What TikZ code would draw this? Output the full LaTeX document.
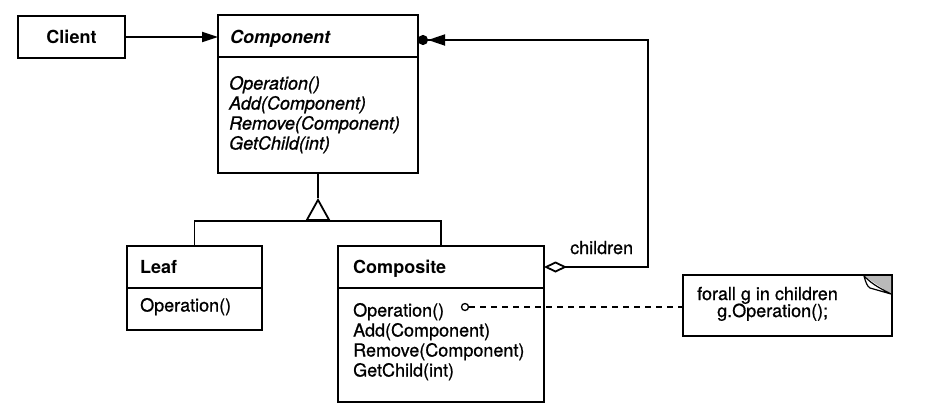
\documentclass[tikz,border=0pt]{standalone}
\usepackage{fontspec}
\setmainfont{TeX Gyre Heros}
\newfontfamily\opfont{TeX Gyre Heros}[FakeBold=0.7]
\newfontfamily\opitfont{TeX Gyre Heros Italic}[FakeBold=0.9]
\usetikzlibrary{arrows.meta}
\begin{document}
\begin{tikzpicture}[x=1pt,y=-1pt]
\tikzset{
  cls/.style={draw, line width=1.8pt, inner sep=0pt, outer sep=0pt},
  lbl/.style={anchor=base west, inner sep=0pt, font=\fontsize{18}{20}\selectfont\opfont},
  ttl/.style={anchor=base west, inner sep=0pt, font=\fontsize{18}{20}\selectfont\bfseries},
  absttl/.style={anchor=base west, inner sep=0pt, font=\fontsize{18}{20}\selectfont\bfseries\itshape},
  absop/.style={anchor=base west, inner sep=0pt, font=\fontsize{18}{20}\selectfont\opitfont},
  link/.style={line width=1.8pt},
}
\fill[white] (0,0) rectangle (946,418);
\useasboundingbox (0,0) rectangle (946,418);

% Client
\node[cls, minimum width=107pt, minimum height=42pt] (client) at (71.5,37) {};
\node[ttl, anchor=base] (clientT) at (71.5,43.5) {Client};

% Component
\node[cls, minimum width=200pt, minimum height=42pt] (compH) at (318,36) {};
\node[cls, minimum width=200pt, minimum height=116pt] (compB) at (318,115) {};
\node[absttl] (compT) at (230,43) {Component};
\node[absop] (compO1) at (229,89.5) {Operation()};
\node[absop] (compO2) at (229,109.5) {Add(Component)};
\node[absop] (compO3) at (229,129.5) {Remove(Component)};
\node[absop] (compO4) at (229,149.5) {GetChild(int)};

% Leaf
\node[cls, minimum width=135pt, minimum height=42pt] (leafH) at (194.5,267) {};
\node[cls, minimum width=135pt, minimum height=42pt] (leafB) at (194.5,309) {};
\node[ttl] (leafT) at (140,273.5) {Leaf};
\node[lbl] (leafO1) at (140,311.5) {Operation()};

% Composite
\node[cls, minimum width=206pt, minimum height=42pt] (compoH) at (441,267) {};
\node[cls, minimum width=206pt, minimum height=114pt] (compoB) at (441,345) {};
\node[ttl] (compoT) at (353,273.5) {Composite};
\node[lbl] (compoO1) at (353,316.5) {Operation()};
\node[lbl] (compoO2) at (353,336.5) {Add(Component)};
\node[lbl] (compoO3) at (353,356.5) {Remove(Component)};
\node[lbl] (compoO4) at (353,376.5) {GetChild(int)};

% Note
\node[cls, minimum width=209pt, minimum height=61pt] (note) at (787.5,305.5) {};
\fill[gray!55] (864,276) -- (891,276) -- (891,294) -- cycle;
\filldraw[fill=white, line width=1.2pt, line join=round] (864,276) .. controls (866,283) and (867,286) .. (870,288) -- (891,294) .. controls (882,289) and (874,286) .. (864,276) -- cycle;
\node[lbl] (noteL1) at (697,300) {forall g in children};
\node[lbl] (noteL2) at (717,317) {g.Operation();};

% Client -> Component
\draw[link, -{Triangle[length=16pt,width=10pt]}] (client.east) -- (client.east -| compH.west);

% aggregation children
\coordinate (aggX) at (648,40);
\draw[link, {Diamond[fill=white,length=23pt,width=11pt]}-{Triangle[length=17pt,width=11pt] Circle[length=10pt]}]
  (compoH.east) -| (aggX) -- (aggX -| compH.east);
\node[lbl] (childrenL) at (570,254) {children};

% inheritance
\coordinate (apex) at (318,198);
\coordinate (inh) at (318,221);
\draw[link] (compB.south) -- (apex);
\draw[link, -{Triangle[open,fill=white,length=23pt,width=25pt]}] (inh) -- (apex);
\draw[link] (leafH.north) |- (inh) -| (compoH.north);

% note link
\node[circle, draw, line width=1.3pt, minimum size=7pt, inner sep=0pt] (opc) at (465,307) {};
\draw[line width=1.5pt, dash pattern=on 6pt off 5pt] (opc.east) -- (opc.east -| note.west);
\end{tikzpicture}
\end{document}
